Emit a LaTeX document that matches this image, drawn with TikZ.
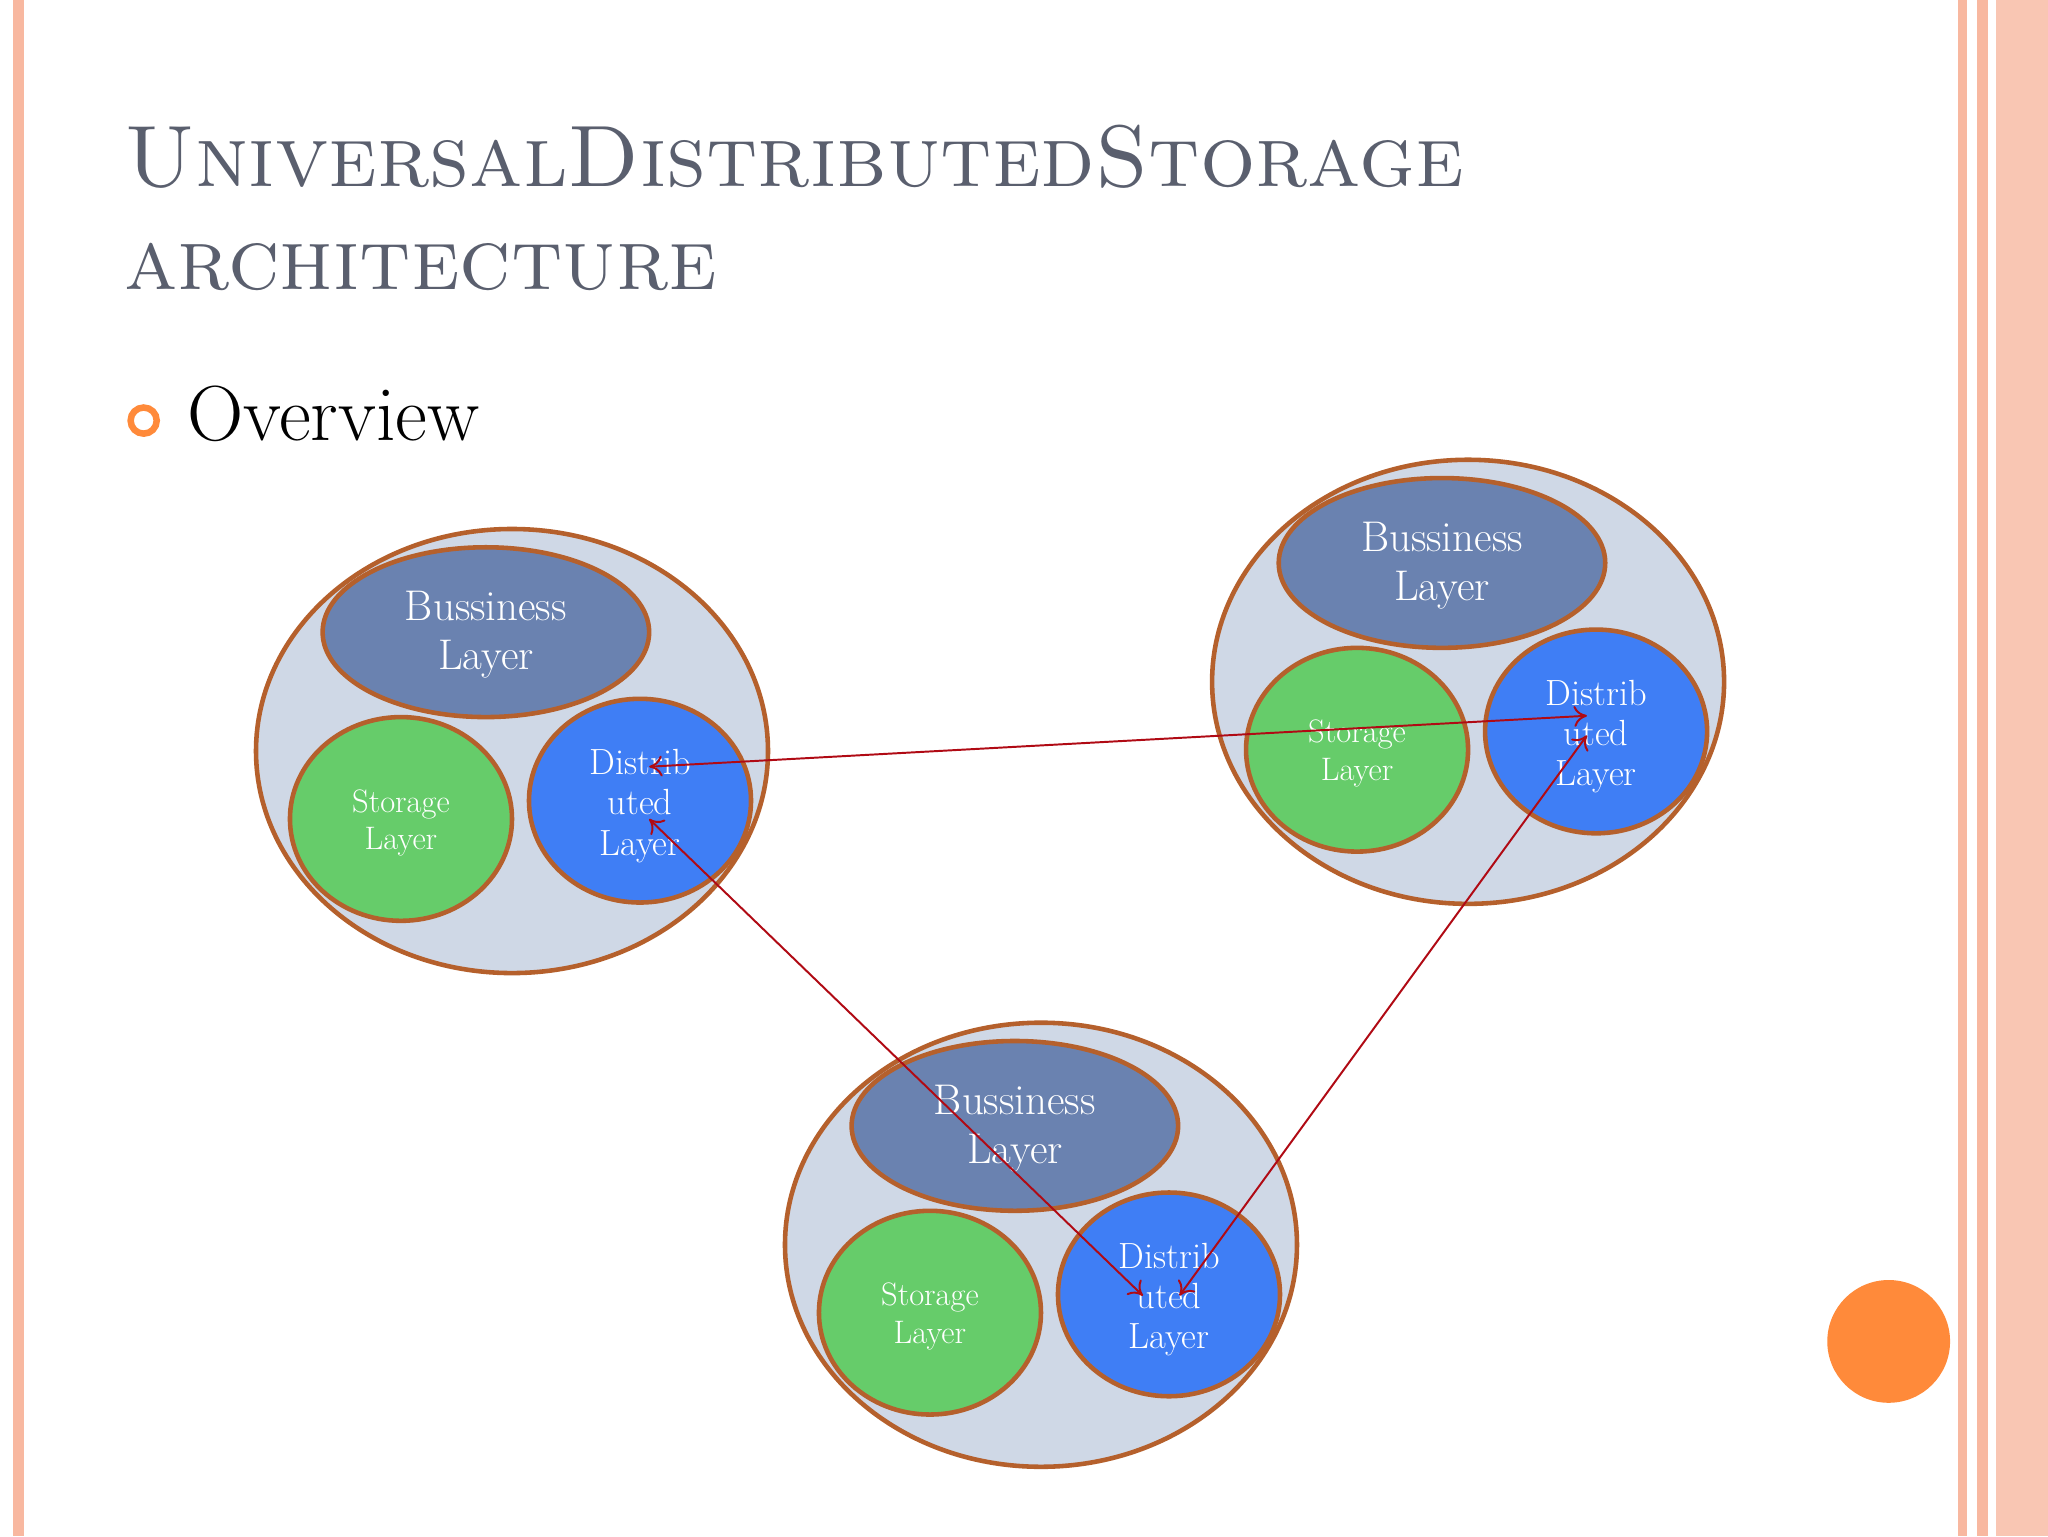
\documentclass[tikz,border=0pt]{standalone}
\usetikzlibrary{arrows.meta}
\begin{document}
\begin{tikzpicture}[x=1bp,y=-1bp,
  outer/.style={draw=brd,line width=3.5bp,fill=outf},
  bus/.style={draw=brd,line width=3.5bp,fill=busf},
  sto/.style={draw=brd,line width=3.5bp,fill=stof},
  dis/.style={draw=brd,line width=3.5bp,fill=disf},
  lab/.style 2 args={text=white,align=center,font=\fontsize{#1}{#2}\selectfont},
  conn/.style={draw=arr,line width=1.5bp,{To[length=10bp,width=16bp]}-{To[length=10bp,width=16bp]}}]
\definecolor{brd}{HTML}{B5602C}
\definecolor{outf}{HTML}{CFD8E6}
\definecolor{busf}{HTML}{6A82B0}
\definecolor{stof}{HTML}{66CC6A}
\definecolor{disf}{HTML}{3F7EF5}
\definecolor{arr}{HTML}{B00A14}
\definecolor{pinkl}{HTML}{F8B8A0}
\definecolor{ttl}{HTML}{5A5F6E}
\definecolor{org}{HTML}{FF8A3A}
\useasboundingbox (0,0) rectangle (1568,1176);
\fill[white] (0,0) rectangle (1568,1176);
% borders
\fill[pinkl] (10,0) rectangle (18,1176);
\fill[pinkl] (1499,0) rectangle (1506,1176);
\fill[pinkl] (1514,0) rectangle (1522,1176);
\fill[pinkl!80] (1528,0) rectangle (1568,1176);
% title
\node[anchor=base west,text=ttl,inner sep=0,font=\fontsize{67}{67}\selectfont] (t1) at (95,143) {\textsc{Universal}\textsc{Distributed}\textsc{Storage}};
\node[anchor=base west,text=ttl,inner sep=0,font=\fontsize{67}{67}\selectfont] (t2) at (95,222) {\textsc{architecture}};
\draw[org,line width=5bp] (110,322) circle (10);
\node[anchor=base west,inner sep=0,font=\fontsize{60}{60}\selectfont] (ov) at (143,337) {Overview};
% groups
\foreach \n/\dx/\dy in {a/0/0,b/732/-53,c/405/378}{
 \begin{scope}[shift={(\dx,\dy)}]
  \draw[outer] (392,575) ellipse [x radius=196,y radius=170];
  \draw[bus] (372,484) ellipse [x radius=125,y radius=65];
  \draw[sto] (307,627) ellipse [x radius=85,y radius=78];
  \draw[dis] (490,613) ellipse [x radius=85,y radius=78];
  \node[lab={33}{38}] (\n bus) at (372,486) {Bussiness\\Layer};
  \node[lab={25}{29}] (\n sto) at (307,630) {Storage\\Layer};
  \node[lab={28}{31}] (\n dis) at (490,617) {Distrib\\uted\\Layer};
 \end{scope}}
\coordinate (a1) at (497,587);
\coordinate (b1) at (1215,548);
\coordinate (a2) at (497,627);
\coordinate (c1) at (875,992);
\coordinate (b2) at (1215,563);
\coordinate (c2) at (903,992);
\draw[conn] (a1) -- (b1);
\draw[conn] (a2) -- (c1);
\draw[conn] (b2) -- (c2);
\fill[org] (1446,1027) circle (47);
\end{tikzpicture}
\end{document}
